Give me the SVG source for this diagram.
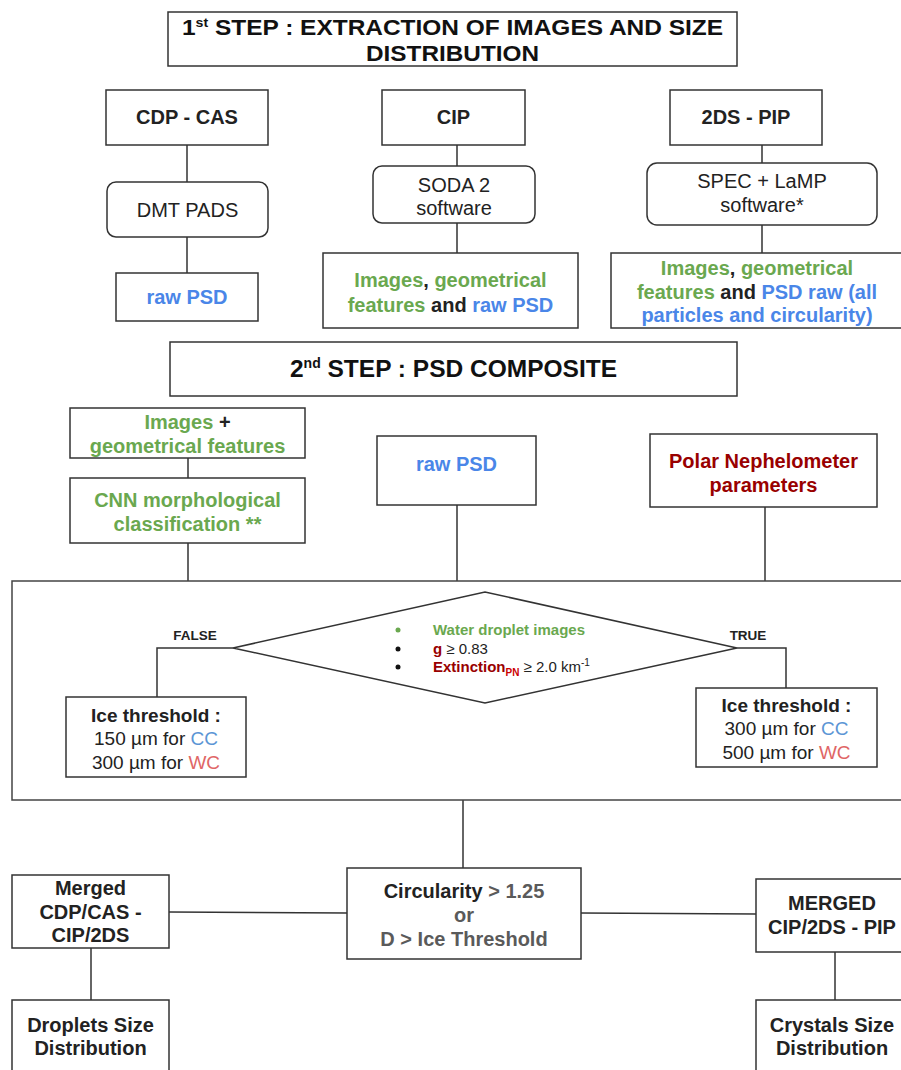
<svg xmlns="http://www.w3.org/2000/svg" width="901" height="1070" viewBox="0 0 901 1070">
<style>
text{font-family:"Liberation Sans",Arial,sans-serif;fill:#222;}
.b{font-weight:bold;}
.c{text-anchor:middle;}
.f20{font-size:20px;}
.f19{font-size:19px;}
.f15{font-size:15px;}
.t{font-size:24.5px;font-weight:bold;text-anchor:middle;fill:#111;}
.t1{font-size:22.5px;font-weight:bold;text-anchor:middle;fill:#111;}
.box{fill:#fff;stroke:#333;stroke-width:1.5;}
.conn{fill:none;stroke:#333;stroke-width:1.5;}
.g{fill:#6AA84F;}
.bl{fill:#4A86E8;}
.cc{fill:#5B95D5;}
.wc{fill:#E06666;}
.dr{fill:#990000;}
.rd{fill:#CC0000;}
.gy{fill:#5a5a5a;}
</style>
<rect width="901" height="1070" fill="#fff"/>

<g id="connectors">
<path class="conn" d="M187 145V182M187 237V273"/>
<path class="conn" d="M457 145V166M457 223V253"/>
<path class="conn" d="M762 145V163M762 225V253"/>
<path class="conn" d="M188 458V478M188 543V581"/>
<path class="conn" d="M457 505V581"/>
<path class="conn" d="M765 507V581"/>
<polyline class="conn" points="233,648 157,648 157,697"/>
<polyline class="conn" points="737,648 786,648 786,688"/>
<path class="conn" d="M463 800V868"/>
<path class="conn" d="M169 912L347 913"/>
<path class="conn" d="M581 913L756 914"/>
<path class="conn" d="M91 948V1000"/>
<path class="conn" d="M835 952V1000"/>
</g>

<g id="step1">
<rect class="box" x="168" y="12" width="569" height="54"/>
<text class="t1" x="452.5" y="35" textLength="541" lengthAdjust="spacingAndGlyphs">1<tspan font-size="13" dy="-8">st</tspan><tspan dy="8"> STEP : EXTRACTION OF IMAGES AND SIZE</tspan></text>
<text class="t1" x="452.5" y="60.5" textLength="173" lengthAdjust="spacingAndGlyphs">DISTRIBUTION</text>
</g>

<g id="cdp">
<rect class="box" x="106" y="90" width="162" height="55"/>
<text class="b c f20" x="187" y="124">CDP - CAS</text>
</g>
<g id="dmt">
<rect class="box" x="107" y="182" width="161" height="55" rx="9"/>
<text class="c f20" x="187.5" y="217">DMT PADS</text>
</g>
<g id="rawpsd1">
<rect class="box" x="116" y="273" width="142" height="48"/>
<text class="b c f20" x="187" y="304"><tspan class="bl">raw PSD</tspan></text>
</g>

<g id="cip">
<rect class="box" x="382" y="90" width="143" height="55"/>
<text class="b c f20" x="453.5" y="124">CIP</text>
</g>
<g id="soda">
<rect class="box" x="373" y="166" width="162" height="57" rx="9"/>
<text class="c f20" x="454" y="192">SODA 2</text>
<text class="c f20" x="454" y="215">software</text>
</g>
<g id="cipout">
<rect class="box" x="323" y="253" width="255" height="75"/>
<text class="b c f20" x="450.5" y="287"><tspan class="g">Images</tspan>, <tspan class="g">geometrical</tspan></text>
<text class="b c f20" x="450.5" y="312"><tspan class="g">features</tspan> and <tspan class="bl">raw PSD</tspan></text>
</g>

<g id="twods">
<rect class="box" x="670" y="90" width="152" height="55"/>
<text class="b c f20" x="746" y="124">2DS - PIP</text>
</g>
<g id="spec">
<rect class="box" x="647" y="163" width="230" height="62" rx="10"/>
<text class="c f20" x="762" y="188">SPEC + LaMP</text>
<text class="c f20" x="762" y="212">software*</text>
</g>
<g id="twodsout">
<rect class="box" x="611" y="253" width="300" height="75"/>
<text class="b c f20" x="757" y="275"><tspan class="g">Images</tspan>, <tspan class="g">geometrical</tspan></text>
<text class="b c f20" x="757" y="299"><tspan class="g">features</tspan> and <tspan class="bl">PSD raw (all</tspan></text>
<text class="b c f20" x="757" y="322"><tspan class="bl">particles and circularity)</tspan></text>
</g>

<g id="step2">
<rect class="box" x="170" y="342" width="567" height="54"/>
<text class="t" x="453.5" y="377">2<tspan font-size="14" dy="-9">nd</tspan><tspan dy="9"> STEP : PSD COMPOSITE</tspan></text>
</g>

<g id="imggeo">
<rect class="box" x="70" y="408" width="235" height="50"/>
<text class="b c f20" x="187.5" y="429"><tspan class="g">Images</tspan> +</text>
<text class="b c f20" x="187.5" y="453"><tspan class="g">geometrical features</tspan></text>
</g>
<g id="cnn">
<rect class="box" x="70" y="478" width="235" height="65"/>
<text class="b c f20 g" x="187.5" y="507">CNN morphological</text>
<text class="b c f20 g" x="187.5" y="531">classification **</text>
</g>
<g id="rawpsd2">
<rect class="box" x="377" y="436" width="159" height="69"/>
<text class="b c f20 bl" x="456.5" y="471">raw PSD</text>
</g>
<g id="polar">
<rect class="box" x="650" y="434" width="227" height="73"/>
<text class="b c f20 dr" x="763.5" y="468">Polar Nephelometer</text>
<text class="b c f20 dr" x="763.5" y="492">parameters</text>
</g>

<g id="container">
<rect x="12" y="581" width="900" height="219" fill="none" stroke="#444" stroke-width="1.5"/>
</g>

<g id="decision">
<polygon class="box" points="233,648 485,592 737,648 485,703"/>
<circle cx="398" cy="630" r="2.5" fill="#6AA84F"/>
<circle cx="398" cy="649" r="2.5" fill="#111"/>
<circle cx="398" cy="667" r="2.5" fill="#111"/>
<text class="b f15 g" x="433" y="635">Water droplet images</text>
<text class="f15" x="433" y="654"><tspan class="b dr">g</tspan> ≥ 0.83</text>
<text class="f15" x="433" y="672"><tspan class="b dr">Extinction</tspan><tspan class="b rd" font-size="10" dy="4">PN</tspan><tspan dy="-4"> ≥ 2.0 km</tspan><tspan font-size="10" dy="-6">-1</tspan></text>
<text class="b c" font-size="13.5" x="195" y="640" fill="#333">FALSE</text>
<text class="b c" font-size="13.5" x="748" y="640" fill="#333">TRUE</text>
</g>

<g id="icefalse">
<rect class="box" x="66" y="697" width="180" height="80"/>
<text class="b c f19" x="156" y="722">Ice threshold :</text>
<text class="c f19" x="156" y="745">150 µm for <tspan class="cc">CC</tspan></text>
<text class="c f19" x="156" y="769">300 µm for <tspan class="wc">WC</tspan></text>
</g>
<g id="icetrue">
<rect class="box" x="696" y="688" width="181" height="79"/>
<text class="b c f19" x="786.5" y="712">Ice threshold :</text>
<text class="c f19" x="786.5" y="735">300 µm for <tspan class="cc">CC</tspan></text>
<text class="c f19" x="786.5" y="759">500 µm for <tspan class="wc">WC</tspan></text>
</g>

<g id="circ">
<rect class="box" x="347" y="868" width="234" height="91"/>
<text class="b c f20" x="464" y="898">Circularity <tspan class="gy">&gt; 1.25</tspan></text>
<text class="b c f20 gy" x="464" y="922">or</text>
<text class="b c f20 gy" x="464" y="946">D &gt; Ice Threshold</text>
</g>

<g id="mergedcdp">
<rect class="box" x="12" y="875" width="157" height="73"/>
<text class="b c f20" x="90.5" y="895">Merged</text>
<text class="b c f20" x="90.5" y="919">CDP/CAS -</text>
<text class="b c f20" x="90.5" y="942">CIP/2DS</text>
</g>
<g id="droplets">
<rect class="box" x="12" y="1000" width="157" height="80"/>
<text class="b c f20" x="90.5" y="1032">Droplets Size</text>
<text class="b c f20" x="90.5" y="1055">Distribution</text>
</g>
<g id="mergedcip">
<rect class="box" x="756" y="879" width="156" height="73"/>
<text class="b c f20" x="832" y="910">MERGED</text>
<text class="b c f20" x="832" y="934">CIP/2DS - PIP</text>
</g>
<g id="crystals">
<rect class="box" x="756" y="1000" width="156" height="80"/>
<text class="b c f20" x="832" y="1032">Crystals Size</text>
<text class="b c f20" x="832" y="1055">Distribution</text>
</g>
</svg>
